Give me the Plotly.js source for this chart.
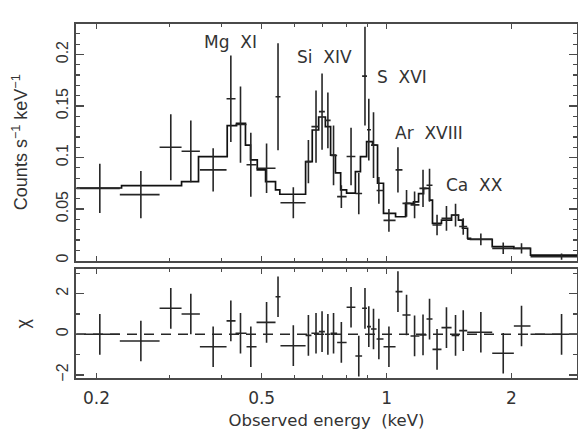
<!DOCTYPE html>
<html><head><meta charset="utf-8">
<script src="https://cdn.plot.ly/plotly-3.0.1.min.js"></script>
<style>html,body{margin:0;padding:0;background:#fff}#chart{width:578px;height:430px}</style>
</head><body><div id="chart"></div>
<script>
// ---- data ----
const binCenter = [0.2037,0.2558,0.302,0.3375,0.382,0.4214,0.4446,0.4708,0.5138,0.5475,0.596,
  0.648,0.676,0.699,0.722,0.745,0.778,0.821,0.857,0.887,0.906,0.930,0.958,1.013,1.065,1.117,
  1.168,1.224,1.269,1.323,1.394,1.466,1.530,1.687,1.910,2.114,2.640];
const binLo = [0.179,0.2276,0.2838,0.3206,0.3549,0.4115,0.4325,0.4597,0.486,0.540,0.555,
  0.638,0.659,0.687,0.710,0.733,0.760,0.801,0.841,0.873,0.897,0.917,0.946,0.983,1.051,1.092,
  1.142,1.200,1.248,1.290,1.356,1.434,1.496,1.564,1.797,2.026,2.222];
const binHi = [0.2276,0.2838,0.3206,0.3549,0.4115,0.4325,0.4597,0.486,0.540,0.555,0.638,
  0.659,0.687,0.710,0.733,0.760,0.801,0.841,0.873,0.897,0.917,0.946,0.983,1.051,1.092,1.142,
  1.200,1.248,1.290,1.356,1.434,1.496,1.564,1.797,2.026,2.222,2.90];
const counts = [0.070,0.064,0.110,0.106,0.088,0.157,0.132,0.093,0.0895,0.159,0.056,
  0.096,0.130,0.1445,0.136,0.102,0.062,0.101,0.065,0.179,0.127,0.112,0.068,0.039,0.088,0.0555,
  0.054,0.070,0.073,0.0345,0.041,0.044,0.033,0.0206,0.0118,0.0118,0.0037];
const countErr = [0.024,0.023,0.032,0.030,0.021,0.042,0.037,0.031,0.024,0.052,0.015,
  0.021,0.035,0.037,0.027,0.029,0.011,0.028,0.020,0.048,0.030,0.032,0.013,0.011,0.022,0.013,
  0.013,0.018,0.016,0.010,0.012,0.011,0.008,0.0057,0.0056,0.0050,0.0030];
const chi = [0.00,-0.33,1.28,1.00,-0.61,0.66,0.05,-0.61,0.59,1.85,-0.56,
  -0.05,0.05,0.13,0.00,0.05,-0.40,1.33,-1.07,1.28,0.38,0.26,-0.23,-0.61,2.10,0.95,
  -0.08,-0.03,0.75,-0.74,0.33,-0.05,0.18,0.10,-0.93,0.41,0.00];
const modelEdges = [0.179,0.2298,0.3206,0.3522,0.413,0.435,0.457,0.470,0.488,0.511,0.540,0.553,
  0.638,0.662,0.686,0.712,0.733,0.753,0.775,0.801,0.841,0.865,0.895,0.925,0.951,0.983,1.051,
  1.111,1.161,1.194,1.228,1.269,1.290,1.356,1.434,1.490,1.524,1.567,1.593,1.797,2.026,2.222,2.90];
const modelRate = [0.0704,0.0726,0.0765,0.1008,0.1309,0.1332,0.1121,0.0976,0.0879,0.0765,0.0685,
  0.0643,0.0959,0.1267,0.1393,0.130,0.1024,0.085,0.0685,0.0655,0.0862,0.1008,0.1154,0.1121,0.075,
  0.0458,0.0425,0.0555,0.057,0.065,0.070,0.0587,0.0361,0.0393,0.0442,0.0393,0.0313,0.0216,0.0206,
  0.0134,0.0118,0.0053];
const lineLabels = ['Mg\u00a0 XI','Si\u00a0 XIV','S\u00a0 XVI','Ar\u00a0 XVIII','Ca\u00a0 XX'];
const lineLabelE = [0.4206,0.710,1.092,1.262,1.629];
const lineLabelY = [0.2122,0.1976,0.1785,0.1238,0.0733];
const xTickVals = [0.2,0.5,1,2];
const xTickText = ['0.2','0.5','1','2'];
const xMinorVals = [0.3,0.4,0.6,0.7,0.8,0.9];
const yTickVals = [0,0.05,0.1,0.15,0.2];
const yTickText = ['0','0.05','0.1','0.15','0.2'];
const chiTickVals = [-2,0,2];
const chiTickText = ['\u22122','0','2'];

// ---- build traces ----
const ink = '#262626';
const errPlus = binHi.map((h,i)=>h-binCenter[i]);
const errMinus = binLo.map((l,i)=>binCenter[i]-l);

const dataTrace = {
  x: binCenter, y: counts, xaxis:'x', yaxis:'y', type:'scatter', mode:'markers',
  marker:{size:1,color:ink},
  error_x:{type:'data', symmetric:false, array:errPlus, arrayminus:errMinus, width:0, thickness:1.6, color:ink},
  error_y:{type:'data', array:countErr, width:0, thickness:1.6, color:ink},
  hoverinfo:'skip'
};
const modelTrace = {
  x: modelEdges, y: modelRate.concat([modelRate[modelRate.length-1]]),
  xaxis:'x', yaxis:'y', type:'scatter', mode:'lines',
  line:{shape:'hv', width:1.7, color:'#111'}, hoverinfo:'skip'
};
const resTrace = {
  x: binCenter, y: chi, xaxis:'x2', yaxis:'y2', type:'scatter', mode:'markers',
  marker:{size:1,color:ink},
  error_x:{type:'data', symmetric:false, array:errPlus, arrayminus:errMinus, width:0, thickness:1.6, color:ink},
  error_y:{type:'constant', value:1, width:0, thickness:1.6, color:ink},
  hoverinfo:'skip'
};

const frame = '#4a4a4a';
const txt = '#333';
const xRange = [-0.7484, 0.4588];
const common = {showline:true, linecolor:frame, linewidth:2, mirror:'ticks', showgrid:false, zeroline:false,
  ticks:'inside', tickcolor:frame, tickwidth:1.3};

const layout = {
  width:578, height:430, margin:{l:76, r:1, t:24, b:52}, showlegend:false,
  paper_bgcolor:'#fff', plot_bgcolor:'#fff',
  xaxis: Object.assign({}, common, {type:'log', range:xRange, anchor:'y', matches:'x2',
    tickvals:xTickVals, ticktext:xTickText, showticklabels:false, ticklen:5,
    minor:{tickvals:xMinorVals, ticks:'inside', ticklen:3, tickcolor:frame, tickwidth:1.2}}),
  xaxis2: Object.assign({}, common, {type:'log', range:xRange, anchor:'y2',
    tickvals:xTickVals, ticktext:xTickText, ticklen:5,
    minor:{tickvals:xMinorVals, ticks:'inside', ticklen:3, tickcolor:frame, tickwidth:1.2},
    tickfont:{family:'DejaVu Sans', size:17, color:txt}, ticklabelstandoff:4,
    title:{text:'Observed energy\u00a0 (keV)', font:{family:'DejaVu Sans', size:16.5, color:txt}, standoff:10}}),
  yaxis: Object.assign({}, common, {domain:[0.3319,1], range:[0,0.2296], anchor:'x',
    tickvals:yTickVals, ticktext:yTickText, tickangle:-90, ticklen:8,
    minor:{dtick:0.01, ticks:'inside', ticklen:4, tickcolor:frame, tickwidth:1.2},
    tickfont:{family:'Liberation Sans', size:16, color:txt},
    title:{text:'Counts s<sup>\u22121</sup> keV<sup>\u22121</sup>', font:{family:'Liberation Sans', size:18, color:txt}, standoff:21}}),
  yaxis2: Object.assign({}, common, {domain:[0,0.3071], range:[-2.15,3.2], anchor:'x2',
    tickvals:chiTickVals, ticktext:chiTickText, tickangle:-90, ticklen:8,
    minor:{dtick:1, ticks:'inside', ticklen:4, tickcolor:frame, tickwidth:1.2},
    tickfont:{family:'Liberation Sans', size:16, color:txt},
    title:{text:'\u03c7', font:{family:'Liberation Sans', size:18, color:txt}, standoff:19}}),
  shapes:[{type:'line', xref:'x2 domain', x0:0, x1:1, yref:'y2', y0:0, y1:0,
    line:{color:ink, width:1.4, dash:'10px,7px'}, layer:'below'}],
  annotations: lineLabels.map((t,i)=>({text:t, x:Math.log10(lineLabelE[i]), y:lineLabelY[i], xref:'x', yref:'y',
    showarrow:false, font:{family:'DejaVu Sans', size:17, color:txt}, xanchor:'center', yanchor:'middle'}))
};

Plotly.newPlot('chart', [modelTrace, dataTrace, resTrace], layout, {staticPlot:true, displayModeBar:false});
</script>
</body></html>
